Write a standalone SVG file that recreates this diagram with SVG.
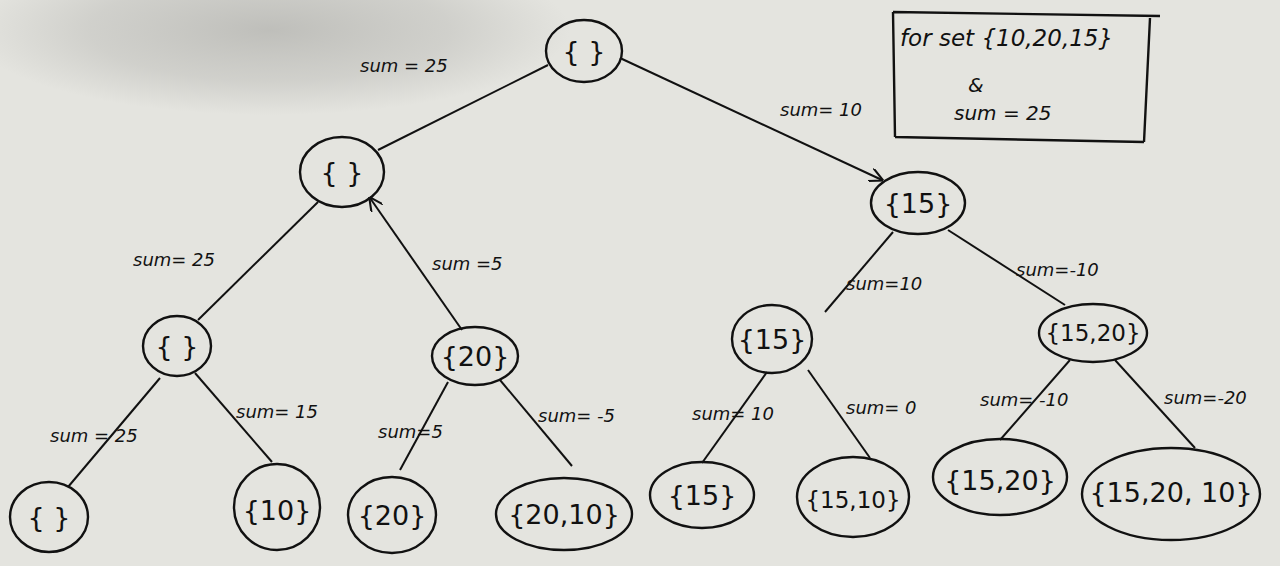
<svg xmlns="http://www.w3.org/2000/svg" width="1280" height="566" viewBox="0 0 1280 566">
<defs>
<radialGradient id="shade" cx="0.5" cy="0.5" r="0.5">
<stop offset="0" stop-color="#b2b2ae" stop-opacity="0.75"/>
<stop offset="0.6" stop-color="#b8b8b4" stop-opacity="0.45"/>
<stop offset="1" stop-color="#b8b8b4" stop-opacity="0"/>
</radialGradient>
<marker id="arr" viewBox="0 0 10 10" refX="9" refY="5" markerWidth="7" markerHeight="7" orient="auto">
<path d="M0,0 L10,5 L0,10" fill="none" stroke="#111" stroke-width="1.5"/>
</marker>
<style>
.n{fill:none;stroke:#111;stroke-width:2.4}
.t{font-family:"DejaVu Sans",sans-serif;font-size:27px;fill:#111;text-anchor:middle;dominant-baseline:central}
.s{font-size:23px}
.l{font-family:"DejaVu Sans",sans-serif;font-size:18px;fill:#111;font-style:italic}
.e{stroke:#111;stroke-width:2;fill:none}
</style>
</defs>
<rect width="1280" height="566" fill="#e4e4df"/>
<ellipse cx="270" cy="30" rx="300" ry="85" fill="url(#shade)"/>
<g id="connectors">
<line class="e" x1="548" y1="65" x2="378" y2="150"/>
<line class="e" x1="620" y1="58" x2="882" y2="180" marker-end="url(#arr)"/>
<line class="e" x1="318" y1="202" x2="198" y2="320"/>
<line class="e" x1="462" y1="330" x2="370" y2="198" marker-end="url(#arr)"/>
<line class="e" x1="893" y1="232" x2="825" y2="312"/>
<line class="e" x1="948" y1="230" x2="1065" y2="305"/>
<line class="e" x1="160" y1="378" x2="68" y2="487"/>
<line class="e" x1="195" y1="373" x2="272" y2="462"/>
<line class="e" x1="448" y1="382" x2="400" y2="470"/>
<line class="e" x1="500" y1="380" x2="572" y2="466"/>
<line class="e" x1="767" y1="372" x2="702" y2="463"/>
<line class="e" x1="808" y1="370" x2="870" y2="458"/>
<line class="e" x1="1070" y1="360" x2="1000" y2="440"/>
<line class="e" x1="1115" y1="360" x2="1195" y2="448"/>
</g>
<g id="labels">
<text class="l" x="360" y="72">sum = 25</text>
<text class="l" x="780" y="116">sum= 10</text>
<text class="l" x="133" y="266">sum= 25</text>
<text class="l" x="432" y="270">sum =5</text>
<text class="l" x="846" y="290">sum=10</text>
<text class="l" x="1016" y="276">sum=-10</text>
<text class="l" x="50" y="442">sum = 25</text>
<text class="l" x="236" y="418">sum= 15</text>
<text class="l" x="378" y="438">sum=5</text>
<text class="l" x="538" y="422">sum= -5</text>
<text class="l" x="692" y="420">sum= 10</text>
<text class="l" x="846" y="414">sum= 0</text>
<text class="l" x="980" y="406">sum= -10</text>
<text class="l" x="1164" y="404">sum=-20</text>
</g>
<g id="legend">
<path d="M893,12 L1160,16 M1150,18 L1144,142 M1144,142 L895,137 M895,137 L893,12" class="n"/>
<text class="l" x="900" y="46" style="font-size:23px">for set {10,20,15}</text>
<text class="l" x="968" y="92" style="font-size:20px">&amp;</text>
<text class="l" x="954" y="120" style="font-size:20px">sum = 25</text>
</g>
<g id="root"><ellipse class="n" cx="584" cy="51" rx="38" ry="31"/><text class="t" x="584" y="51">{ }</text></g>
<g id="n1l"><ellipse class="n" cx="342" cy="172" rx="42" ry="35"/><text class="t" x="342" y="172">{ }</text></g>
<g id="n1r"><ellipse class="n" cx="918" cy="203" rx="47" ry="31"/><text class="t" x="918" y="203">{15}</text></g>
<g id="n2a"><ellipse class="n" cx="177" cy="346" rx="34" ry="30"/><text class="t" x="177" y="346">{ }</text></g>
<g id="n2b"><ellipse class="n" cx="475" cy="356" rx="43" ry="29"/><text class="t" x="475" y="356">{20}</text></g>
<g id="n2c"><ellipse class="n" cx="772" cy="339" rx="40" ry="34"/><text class="t" x="772" y="339">{15}</text></g>
<g id="n2d"><ellipse class="n" cx="1093" cy="333" rx="54" ry="29"/><text class="t s" x="1093" y="333">{15,20}</text></g>
<g id="n3a"><ellipse class="n" cx="49" cy="517" rx="39" ry="35"/><text class="t" x="49" y="517">{ }</text></g>
<g id="n3b"><ellipse class="n" cx="277" cy="507" rx="43" ry="43"/><text class="t" x="277" y="510">{10}</text></g>
<g id="n3c"><ellipse class="n" cx="392" cy="515" rx="44" ry="38"/><text class="t" x="392" y="515">{20}</text></g>
<g id="n3d"><ellipse class="n" cx="564" cy="514" rx="68" ry="36"/><text class="t" x="564" y="514">{20,10}</text></g>
<g id="n3e"><ellipse class="n" cx="702" cy="495" rx="52" ry="33"/><text class="t" x="702" y="495">{15}</text></g>
<g id="n3f"><ellipse class="n" cx="853" cy="497" rx="56" ry="40"/><text class="t s" x="853" y="500">{15,10}</text></g>
<g id="n3g"><ellipse class="n" cx="1000" cy="477" rx="67" ry="38"/><text class="t" x="1000" y="480">{15,20}</text></g>
<g id="n3h"><ellipse class="n" cx="1171" cy="494" rx="89" ry="46"/><text class="t" x="1171" y="492">{15,20, 10}</text></g>
</svg>
